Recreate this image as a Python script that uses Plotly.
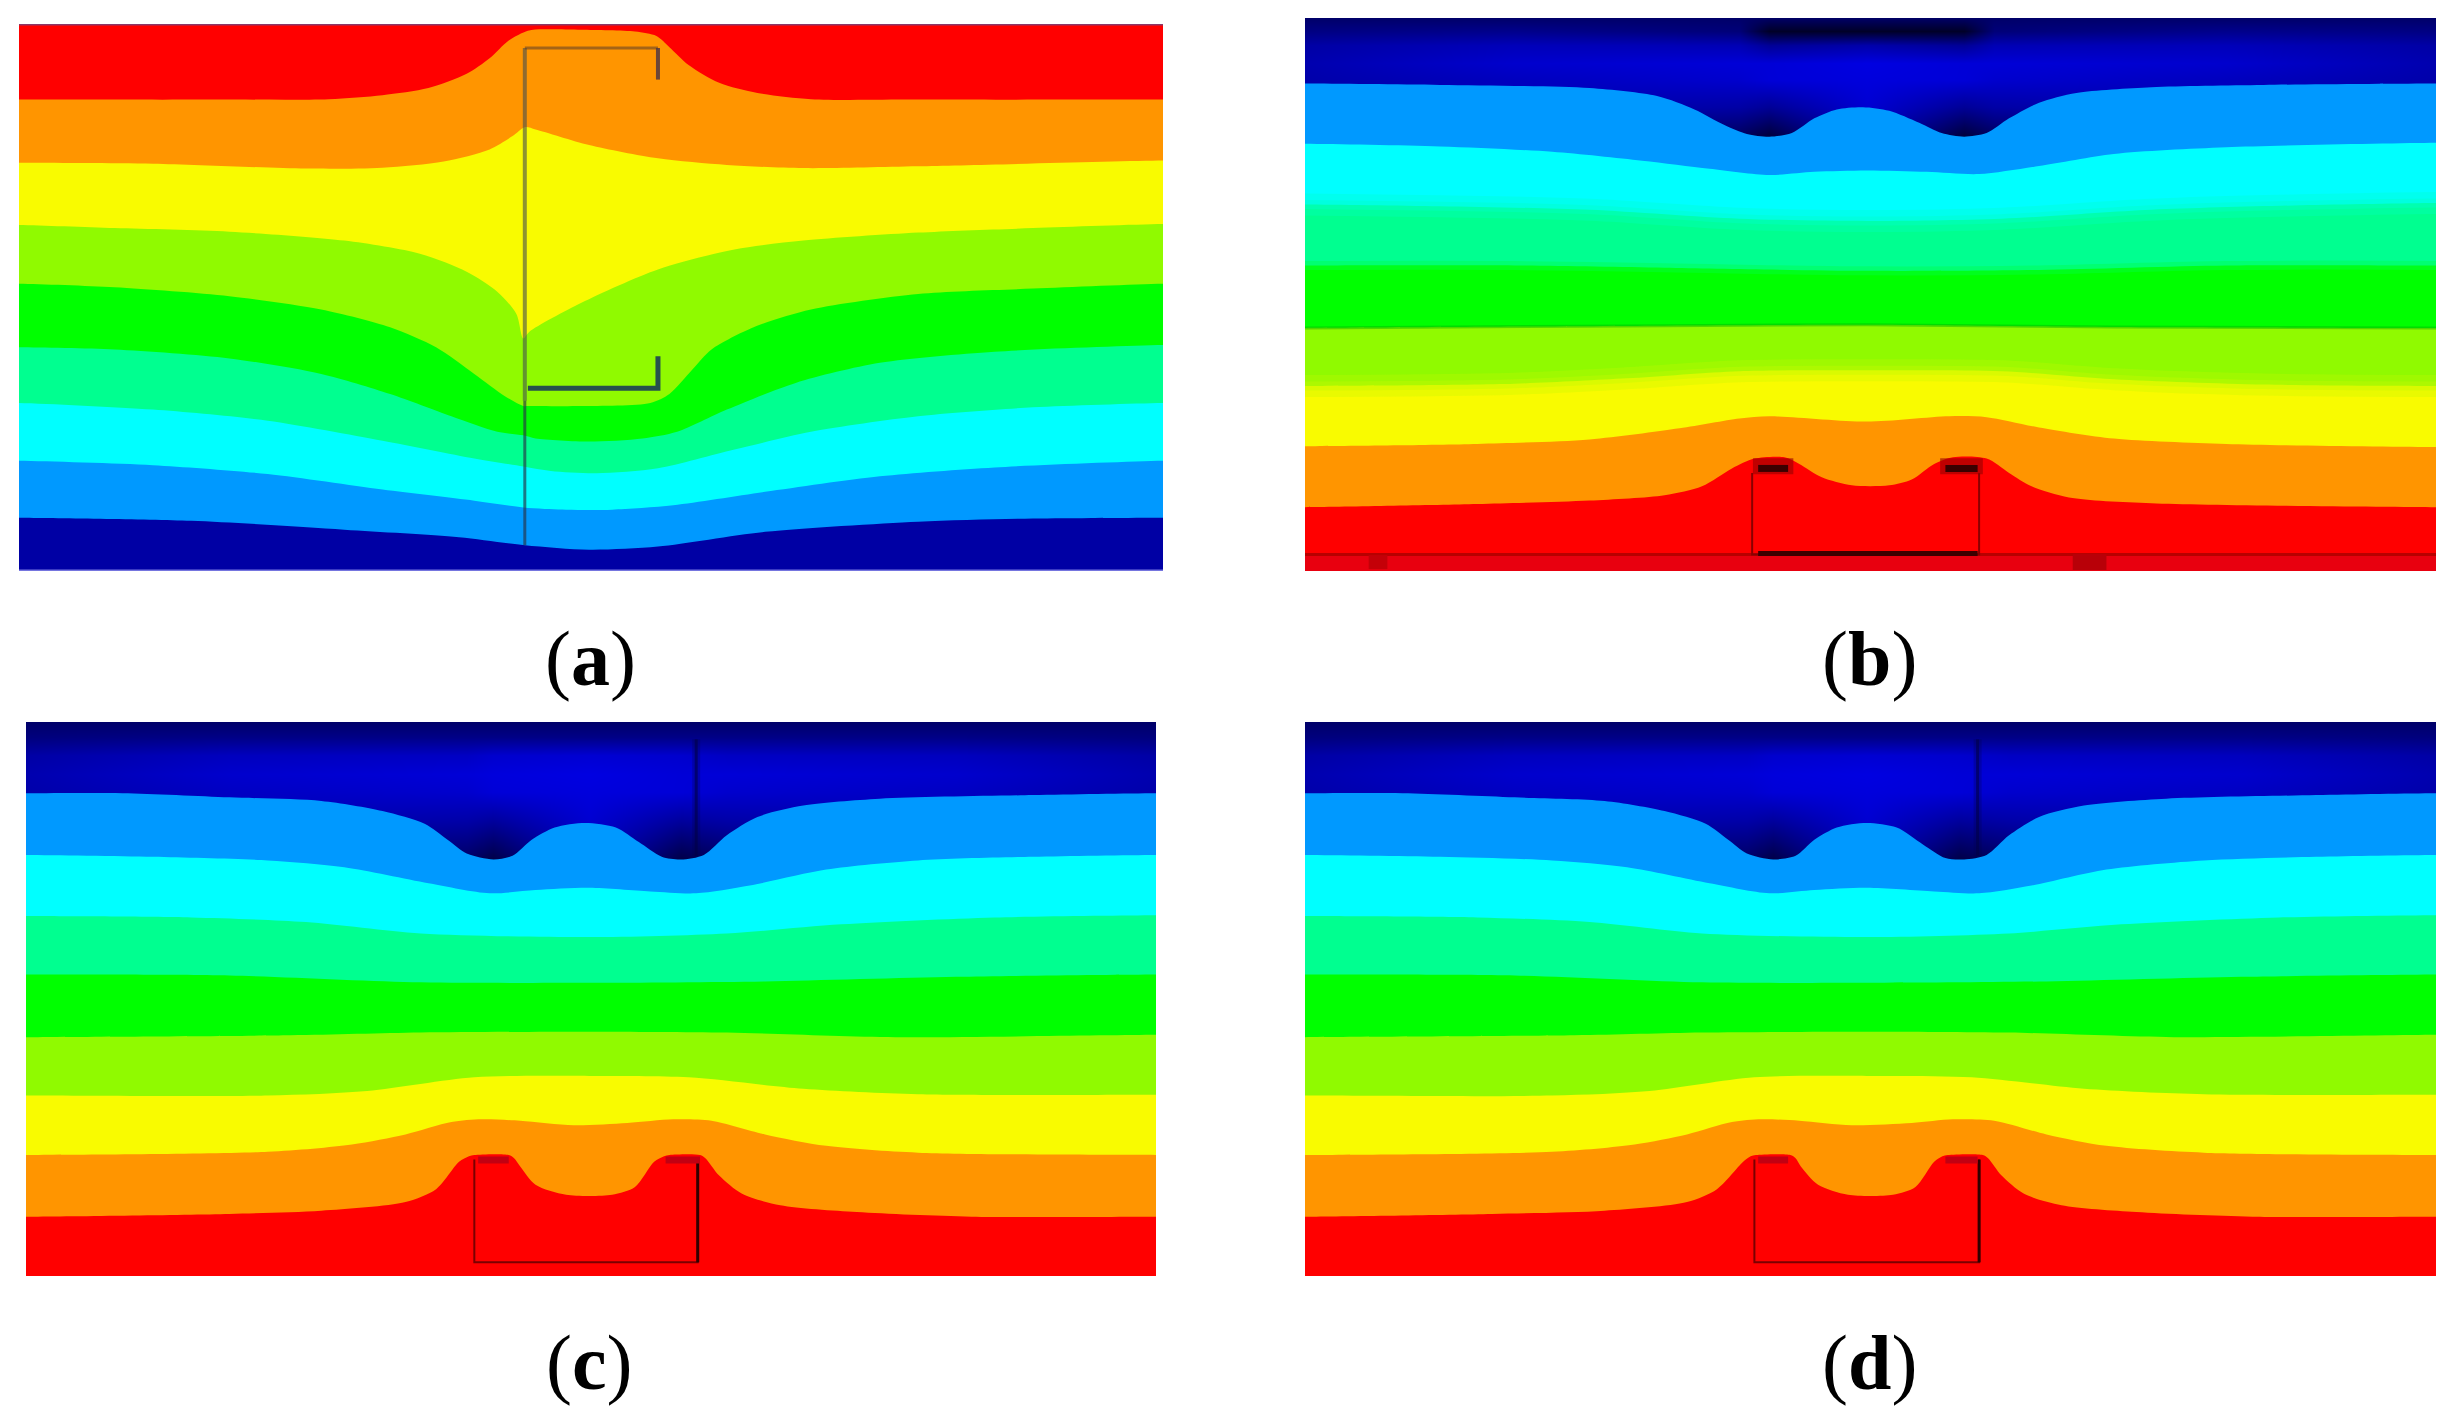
import plotly.graph_objects as go

# band colours, top to bottom of panels b, c, d (panel a runs the other way)
RED = "#ff0000"
ORANGE = "#ff9500"
YELLOW = "#f9fb00"
LIME = "#90fa00"
GREEN = "#00ff00"
SPRING = "#00ff90"
CYAN = "#00ffff"
BLUE = "#0099ff"
NAVY = "#0000a4"

letters = ["a", "b", "c", "d"]

# === panel a contour boundaries ===
a1_x = [25, 300, 430, 500, 560, 610, 640, 665, 690, 710, 760, 830, 858, 875, 900, 940, 990, 1060, 1200, 1520]
a1_y = [223, 223, 222, 213, 197, 165, 130, 90, 68, 65, 66, 70, 80, 105, 145, 185, 208, 222, 223, 223]
a2_x = [25, 200, 400, 500, 580, 640, 670, 686, 700, 770, 860, 950, 1050, 1200, 1520]
a2_y = [365, 367, 378, 376, 362, 335, 305, 285, 290, 325, 355, 370, 377, 373, 360]
a3_x = [25, 150, 300, 450, 550, 610, 650, 675, 684, 692, 760, 860, 960, 1050, 1200, 1350, 1520]
a3_y = [505, 512, 520, 540, 570, 610, 655, 705, 760, 745, 680, 605, 560, 540, 522, 512, 503]
a4_x = [25, 150, 300, 420, 510, 570, 620, 660, 684, 690, 760, 850, 875, 905, 930, 985, 1060, 1200, 1350, 1520]
a4_y = [637, 645, 665, 695, 735, 780, 840, 890, 912, 912, 912, 905, 885, 830, 785, 735, 695, 660, 648, 637]
a5_x = [25, 150, 300, 420, 510, 590, 650, 684, 700, 770, 840, 885, 950, 1040, 1150, 1300, 1520]
a5_y = [780, 785, 805, 840, 885, 935, 970, 978, 985, 992, 985, 970, 920, 860, 815, 790, 775]
a6_x = [25, 200, 350, 500, 620, 684, 720, 780, 860, 960, 1060, 1200, 1350, 1520]
a6_y = [905, 920, 945, 990, 1030, 1048, 1058, 1063, 1052, 1010, 970, 935, 915, 905]
a7_x = [25, 200, 350, 500, 620, 684, 740, 800, 880, 1000, 1150, 1300, 1520]
a7_y = [1035, 1045, 1065, 1100, 1125, 1140, 1145, 1145, 1135, 1105, 1070, 1050, 1035]
a8_x = [25, 250, 450, 600, 686, 770, 860, 1000, 1200, 1350, 1520]
a8_y = [1163, 1170, 1190, 1207, 1225, 1235, 1228, 1195, 1172, 1165, 1163]

# === panel b ===
b1_x = [20, 200, 400, 490, 540, 580, 610, 640, 670, 700, 730, 765, 800, 840, 870, 900, 930, 960, 1000, 1050, 1150, 1300, 1530]
b1_y = [187, 190, 197, 215, 245, 280, 300, 306, 298, 265, 245, 240, 248, 275, 298, 306, 298, 265, 230, 208, 195, 190, 187]
b2_x = [20, 200, 350, 470, 560, 640, 700, 770, 850, 920, 1000, 1100, 1250, 1530]
b2_y = [322, 328, 340, 360, 378, 392, 385, 382, 385, 390, 372, 345, 330, 320]
b3_x = [20, 200, 400, 600, 770, 950, 1150, 1350, 1530]
b3_y = [458, 462, 470, 490, 495, 490, 470, 460, 455]
b4_x = [20, 300, 500, 770, 1000, 1250, 1530]
b4_y = [595, 595, 600, 607, 605, 595, 595]
b5_x = [20, 500, 770, 1100, 1530]
b5_y = [735, 730, 728, 733, 735]
b6_x = [20, 300, 450, 600, 770, 950, 1100, 1300, 1530]
b6_y = [865, 860, 848, 832, 830, 832, 850, 862, 865]
b7_x = [20, 250, 400, 520, 600, 640, 770, 880, 930, 1000, 1100, 1250, 1530]
b7_y = [1000, 995, 985, 960, 938, 933, 945, 933, 935, 958, 983, 995, 1002]
b8_x = [20, 250, 400, 500, 550, 590, 620, 660, 680, 710, 750, 800, 830, 860, 885, 930, 960, 990, 1040, 1150, 1530]
b8_y = [1137, 1130, 1122, 1110, 1090, 1050, 1028, 1025, 1040, 1070, 1088, 1088, 1075, 1040, 1025, 1028, 1060, 1090, 1115, 1128, 1137]

# === panel c ===
c1_x = [34, 160, 300, 420, 500, 555, 585, 610, 645, 670, 695, 725, 765, 805, 835, 865, 890, 920, 950, 990, 1050, 1150, 1350, 1511]
c1_y = [183, 183, 192, 200, 222, 250, 285, 315, 328, 320, 285, 258, 248, 258, 290, 322, 328, 318, 275, 235, 210, 195, 187, 183]
c2_x = [34, 200, 350, 450, 560, 640, 700, 770, 850, 910, 980, 1080, 1200, 1350, 1511]
c2_y = [318, 322, 330, 345, 380, 402, 395, 390, 398, 402, 385, 350, 330, 322, 318]
c3_x = [34, 250, 400, 550, 770, 950, 1100, 1300, 1511]
c3_y = [452, 455, 465, 490, 498, 490, 470, 455, 450]
c4_x = [34, 300, 550, 770, 1000, 1250, 1511]
c4_y = [580, 582, 597, 598, 595, 585, 580]
c5_x = [34, 380, 550, 770, 950, 1170, 1511]
c5_y = [717, 713, 707, 705, 707, 717, 712]
c6_x = [34, 350, 480, 620, 770, 900, 1050, 1200, 1511]
c6_y = [845, 845, 835, 805, 802, 805, 830, 842, 843]
c7_x = [34, 350, 460, 530, 590, 630, 680, 750, 820, 880, 930, 1000, 1080, 1200, 1511]
c7_y = [975, 968, 952, 930, 903, 897, 900, 910, 905, 897, 900, 930, 955, 970, 975]
c8_x = [34, 300, 420, 530, 570, 600, 613, 620, 665, 672, 680, 700, 740, 800, 830, 855, 868, 875, 915, 922, 940, 970, 1020, 1120, 1270, 1511]
c8_y = [1110, 1104, 1097, 1078, 1050, 990, 978, 975, 975, 982, 1000, 1040, 1062, 1062, 1045, 990, 978, 975, 975, 982, 1020, 1060, 1085, 1100, 1110, 1110]

# === panel d ===
d1_x = [20, 150, 300, 420, 500, 555, 585, 610, 645, 675, 700, 730, 770, 810, 845, 875, 900, 930, 960, 1000, 1060, 1170, 1370, 1530]
d1_y = [183, 183, 192, 200, 222, 250, 285, 315, 328, 320, 285, 258, 248, 258, 295, 325, 328, 318, 275, 235, 210, 195, 187, 183]
d2_x = [20, 200, 350, 450, 560, 640, 700, 770, 860, 920, 990, 1090, 1220, 1370, 1530]
d2_y = [318, 322, 330, 345, 380, 402, 395, 390, 398, 402, 385, 350, 330, 322, 318]
d3_x = [20, 250, 400, 550, 770, 960, 1110, 1320, 1530]
d3_y = [452, 455, 465, 490, 498, 490, 470, 455, 450]
d4_x = [20, 300, 550, 770, 1010, 1270, 1530]
d4_y = [580, 582, 597, 598, 595, 585, 580]
d5_x = [20, 380, 550, 770, 960, 1180, 1530]
d5_y = [717, 713, 707, 705, 707, 717, 712]
d6_x = [20, 350, 480, 620, 770, 910, 1060, 1220, 1530]
d6_y = [845, 845, 835, 805, 802, 805, 830, 842, 843]
d7_x = [20, 350, 460, 530, 590, 630, 680, 750, 830, 885, 940, 1010, 1090, 1220, 1530]
d7_y = [975, 968, 952, 930, 903, 897, 900, 910, 905, 897, 900, 930, 955, 970, 975]
d8_x = [20, 270, 420, 530, 570, 605, 615, 622, 668, 675, 682, 705, 745, 805, 835, 860, 871, 878, 925, 932, 950, 980, 1030, 1130, 1285, 1530]
d8_y = [1110, 1104, 1097, 1078, 1050, 990, 978, 975, 975, 982, 1000, 1040, 1062, 1062, 1045, 990, 978, 975, 975, 982, 1020, 1060, 1085, 1100, 1110, 1110]

# blue channel of the top band in b, c, d (it is shaded, not flat)
b_shade_x = [20, 300, 600, 640, 770, 900, 940, 1250, 1530]
b_shade_y = [40, 70, 100, 140, 180, 240, 300, 340]
b_shade = [
    [105, 105, 105, 100, 100, 100, 105, 105, 105],
    [130, 140, 120, 40, 40, 40, 120, 140, 130],
    [165, 185, 180, 150, 170, 150, 180, 185, 165],
    [175, 205, 215, 215, 225, 215, 215, 205, 175],
    [170, 190, 205, 215, 220, 215, 205, 190, 170],
    [165, 185, 165, 150, 210, 150, 165, 185, 165],
    [160, 175, 100, 65, 200, 65, 100, 175, 160],
    [160, 175, 100, 65, 200, 65, 100, 175, 160],
]
c_shade_x = [34, 300, 610, 645, 770, 890, 950, 1250, 1511]
c_shade_y = [27, 60, 100, 140, 180, 240, 330, 340]
c_shade = [
    [105, 105, 105, 105, 105, 105, 105, 105, 105],
    [125, 135, 135, 135, 135, 135, 135, 135, 125],
    [165, 190, 195, 205, 210, 205, 195, 190, 165],
    [175, 205, 215, 220, 225, 215, 215, 205, 175],
    [170, 195, 205, 215, 220, 215, 205, 195, 170],
    [165, 185, 170, 160, 210, 160, 170, 185, 165],
    [160, 175, 100, 70, 200, 70, 100, 175, 160],
    [160, 175, 100, 70, 200, 70, 100, 175, 160],
]
d_shade_x = [20, 300, 610, 645, 770, 895, 960, 1270, 1530]

fig = go.Figure()

# panel geometry: axis ranges in the units the boundaries were read in
panels = {
    "a": dict(axis="", x=(25, 1520), y=(53, 1283), px=(19, 1163), py=(24, 571)),
    "b": dict(axis="2", x=(20, 1530), y=(40, 1280), px=(1305, 2436), py=(18, 571)),
    "c": dict(axis="3", x=(34, 1511), y=(27, 1240), px=(26, 1156), py=(722, 1276)),
    "d": dict(axis="4", x=(20, 1530), y=(27, 1240), px=(1305, 2436), py=(722, 1276)),
}
W, H = 2464, 1426


def add_band(p, xs, ys, color):
    # filled from the curve down past the bottom of the panel
    x0, x1 = panels[p]["x"]
    bottom = panels[p]["y"][1] + 200
    fig.add_trace(go.Scatter(
        x=[x0 - 60] + xs + [x1 + 60, x1 + 60, x0 - 60],
        y=[ys[0]] + ys + [ys[-1], bottom, bottom],
        mode="lines", fill="toself", fillcolor=color,
        line=dict(width=0, color=color, shape="spline", smoothing=0.8),
        hoverinfo="skip", showlegend=False,
        xaxis="x" + panels[p]["axis"], yaxis="y" + panels[p]["axis"]))


def add_line(p, xs, ys, color, width, smooth=False):
    fig.add_trace(go.Scatter(
        x=xs, y=ys, mode="lines",
        line=dict(color=color, width=width, shape="spline" if smooth else "linear"),
        hoverinfo="skip", showlegend=False,
        xaxis="x" + panels[p]["axis"], yaxis="y" + panels[p]["axis"]))


def add_shade(p, xs, ys, z):
    fig.add_trace(go.Heatmap(
        x=xs, y=ys, z=z, zmin=0, zmax=255, zsmooth="best", showscale=False,
        colorscale=[[0, "#000000"], [1, "#0000ff"]], hoverinfo="skip",
        xaxis="x" + panels[p]["axis"], yaxis="y" + panels[p]["axis"]))


# panel a: red on top, painted downwards
add_band("a", [25, 1520], [0, 0], RED)
a_bands = [(a1_x, a1_y, ORANGE), (a2_x, a2_y, YELLOW), (a3_x, a3_y, LIME), (a4_x, a4_y, GREEN),
           (a5_x, a5_y, SPRING), (a6_x, a6_y, CYAN), (a7_x, a7_y, BLUE), (a8_x, a8_y, NAVY)]
for xs, ys, col in a_bands:
    add_band("a", xs, ys, col)

# section outline in a
add_line("a", [686, 686], [107, 900], "rgba(70,80,80,0.6)", 4)
add_line("a", [686, 686], [900, 1225], "rgba(40,50,70,0.65)", 3)
add_line("a", [686, 860], [107, 107], "rgba(90,60,40,0.55)", 3)
add_line("a", [860, 860], [107, 178], "rgba(70,50,70,0.8)", 4)
add_line("a", [690, 860, 860], [872, 872, 800], "rgba(20,50,90,0.85)", 5)
add_line("a", [25, 1520], [54, 54], "rgba(110,70,130,0.8)", 2)
add_line("a", [25, 1520], [1282, 1282], "rgba(130,130,230,0.9)", 2)

# panels b, c, d: navy on top, painted downwards
band_colors = [BLUE, CYAN, SPRING, GREEN, LIME, YELLOW, ORANGE, RED]
b_curves = [(b1_x, b1_y), (b2_x, b2_y), (b3_x, b3_y), (b4_x, b4_y), (b5_x, b5_y), (b6_x, b6_y), (b7_x, b7_y), (b8_x, b8_y)]
c_curves = [(c1_x, c1_y), (c2_x, c2_y), (c3_x, c3_y), (c4_x, c4_y), (c5_x, c5_y), (c6_x, c6_y), (c7_x, c7_y), (c8_x, c8_y)]
d_curves = [(d1_x, d1_y), (d2_x, d2_y), (d3_x, d3_y), (d4_x, d4_y), (d5_x, d5_y), (d6_x, d6_y), (d7_x, d7_y), (d8_x, d8_y)]

add_shade("b", b_shade_x, b_shade_y, b_shade)
add_shade("c", c_shade_x, c_shade_y, c_shade)
add_shade("d", d_shade_x, c_shade_y, c_shade)

for p, curves in (("b", b_curves), ("c", c_curves), ("d", d_curves)):
    for (xs, ys), col in zip(curves, band_colors):
        add_band(p, xs, ys, col)

# soft edges in b
add_line("b", b3_x, b3_y, "rgba(0,255,200,0.3)", 22, smooth=True)
add_line("b", b3_x, b3_y, "rgba(0,255,200,0.4)", 9, smooth=True)
add_line("b", b4_x, b4_y, "rgba(0,255,70,0.4)", 9, smooth=True)
add_line("b", b6_x, b6_y, "rgba(196,250,0,0.3)", 22, smooth=True)
add_line("b", b6_x, b6_y, "rgba(196,250,0,0.4)", 9, smooth=True)
add_line("b", b5_x, b5_y, "rgba(0,180,0,0.45)", 3, smooth=True)

# channel outlines
add_line("b", [20, 1530], [1262, 1262], "#e8000f", 16)
add_line("b", [20, 1530], [1243, 1243], "#b80000", 3)
add_line("b", [105, 130], [1260, 1260], "#c40008", 14)
add_line("b", [1045, 1090], [1260, 1260], "#b80008", 16)
add_line("b", [617, 617, 920, 920], [1060, 1243, 1243, 1060], "#8a0000", 2)
add_line("b", [625, 918], [1241, 1241], "#3c0000", 5)
add_line("b", [618, 672], [1045, 1045], "rgba(150,0,0,0.6)", 16)
add_line("b", [868, 925], [1045, 1045], "rgba(150,0,0,0.6)", 16)
add_line("b", [625, 665], [1050, 1050], "#3a0000", 7)
add_line("b", [875, 918], [1050, 1050], "#3a0000", 7)

add_line("c", [910, 910], [65, 320], "rgba(0,0,70,0.25)", 8)
add_line("c", [910, 910], [65, 320], "rgba(0,0,70,0.6)", 3)
add_line("c", [620, 620, 912, 912], [985, 1210, 1210, 985], "#7a0000", 2)
add_line("c", [912, 912], [985, 1210], "#300000", 3)
add_line("c", [625, 665], [986, 986], "#c20012", 7)
add_line("c", [870, 915], [986, 986], "#c20012", 7)
add_line("d", [918, 918], [65, 320], "rgba(0,0,70,0.25)", 8)
add_line("d", [918, 918], [65, 320], "rgba(0,0,70,0.6)", 3)
add_line("d", [620, 620, 920, 920], [985, 1210, 1210, 985], "#7a0000", 2)
add_line("d", [920, 920], [985, 1210], "#300000", 3)
add_line("d", [625, 665], [986, 986], "#c20012", 7)
add_line("d", [875, 918], [986, 986], "#c20012", 7)

layout = dict(
    width=W, height=H, margin=dict(l=0, r=0, t=0, b=0),
    paper_bgcolor="white", plot_bgcolor="white", showlegend=False)
for name, p in panels.items():
    layout["xaxis" + p["axis"]] = dict(
        domain=[p["px"][0] / W, p["px"][1] / W], range=list(p["x"]), visible=False, fixedrange=True,
        anchor="y" + p["axis"])
    layout["yaxis" + p["axis"]] = dict(
        domain=[1 - p["py"][1] / H, 1 - p["py"][0] / H], range=[p["y"][1], p["y"][0]], visible=False,
        fixedrange=True, anchor="x" + p["axis"])
fig.update_layout(**layout)

# sub-figure captions, bold letter between plain brackets
label_pos = [(590, 658), (1869, 658), (589, 1362), (1869, 1362)]
for letter, (lx, ly) in zip(letters, label_pos):
    fig.add_annotation(
        x=lx / W, y=1 - ly / H, xref="paper", yref="paper", showarrow=False,
        xanchor="center", yanchor="middle",
        text=f"(<b>{letter}</b>)", font=dict(family="Liberation Serif", size=78, color="black"))

# the page's default body margin would push the figure 8px off
fig.write_html("out.html", config={"displayModeBar": False},
               post_script="document.body.style.margin='0';")
